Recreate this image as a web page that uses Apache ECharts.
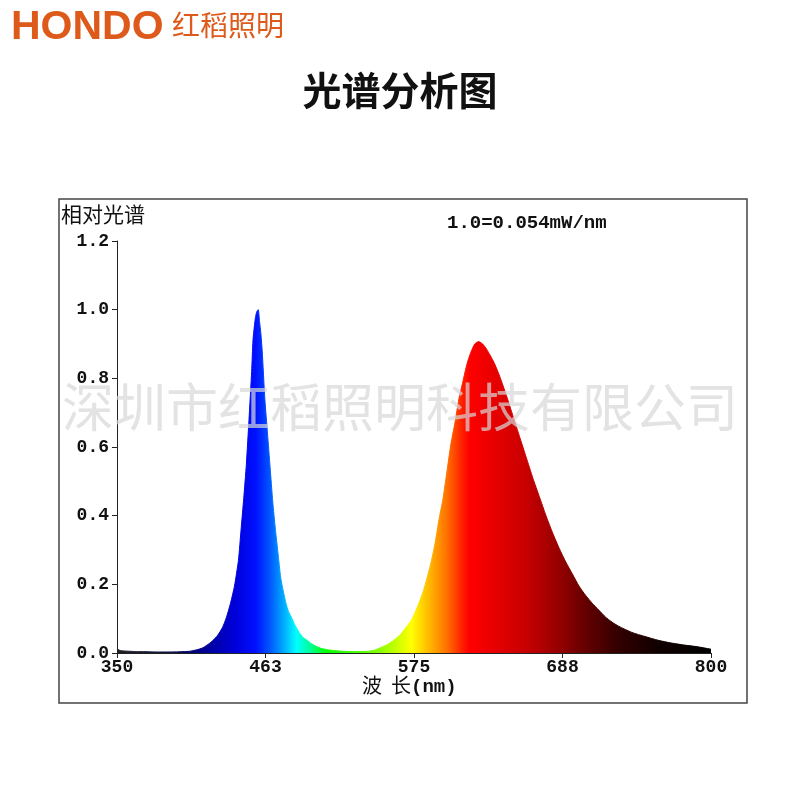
<!DOCTYPE html>
<html>
<head>
<meta charset="utf-8">
<script src="https://cdn.jsdelivr.net/npm/echarts@6/dist/echarts.min.js"></script>
<style>
  html, body { margin: 0; padding: 0; background: #fff; }
  #chart { width: 800px; height: 800px; }
</style>
</head>
<body>
<div id="chart"></div>
<script>
// 波长 (nm)
const wavelengths = [
  350, 352, 355, 360, 365, 370, 380, 390, 400, 405, 410, 415, 420, 423, 426, 430,
  433, 436, 439, 442, 444, 446, 448, 450, 452, 453, 454, 455, 456, 457, 458, 459,
  460, 462, 464, 466, 468, 470, 472, 474, 476, 478, 480, 482, 485, 488, 491, 494,
  497, 500, 505, 510, 515, 520, 530, 540, 545, 550, 555, 560, 565, 570, 573, 576,
  579, 582, 585, 588, 591, 594, 597, 600, 603, 606, 609, 612, 615, 618, 621, 624,
  627, 630, 633, 636, 640, 645, 650, 655, 660, 665, 670, 675, 680, 685, 690, 695,
  700, 705, 710, 715, 720, 725, 730, 740, 750, 760, 770, 780, 790, 800
]
// 相对光谱强度
const intensity = [
  0.012, 0.008, 0.006, 0.005, 0.004, 0.004, 0.003, 0.003, 0.004, 0.005, 0.009, 0.015, 0.028, 0.038, 0.05, 0.075,
  0.105, 0.145, 0.195, 0.27, 0.36, 0.45, 0.55, 0.68, 0.82, 0.91, 0.95, 0.98, 0.995, 1.0, 0.965, 0.93,
  0.88, 0.74, 0.64, 0.54, 0.44, 0.36, 0.29, 0.22, 0.18, 0.145, 0.12, 0.105, 0.08, 0.06, 0.045, 0.037,
  0.028, 0.021, 0.013, 0.009, 0.007, 0.005, 0.004, 0.005, 0.008, 0.016, 0.025, 0.038, 0.055, 0.08, 0.096, 0.12,
  0.148, 0.18, 0.22, 0.265, 0.32, 0.39, 0.45, 0.53, 0.61, 0.67, 0.74, 0.79, 0.84, 0.875, 0.9, 0.907,
  0.9, 0.885, 0.865, 0.843, 0.805, 0.75, 0.69, 0.63, 0.57, 0.51, 0.455, 0.4, 0.35, 0.305, 0.265, 0.23,
  0.195, 0.168, 0.145, 0.125, 0.105, 0.09, 0.078, 0.06, 0.048, 0.037, 0.029, 0.023, 0.018, 0.011
]
const xTicks = [350, 462.5, 575, 687.5, 800]

// 光谱颜色 (波长 -> 颜色)
const spectrumStops = [
  [350, '#202020'], [395, '#10104a'], [405, '#000070'], [420, '#0000a0'],
  [440, '#0000dc'], [455, '#0010ff'], [465, '#0050ff'], [475, '#00a0ff'],
  [486, '#00ffff'], [497, '#00ff90'], [508, '#00ff00'], [540, '#60ff00'],
  [560, '#c0ff00'], [573, '#ffff00'], [588, '#ffb000'], [600, '#ff7000'],
  [610, '#ff2a00'], [617, '#ff0000'], [635, '#e80000'], [660, '#c80000'],
  [685, '#950000'], [705, '#640000'], [730, '#320000'], [760, '#100000'],
  [800, '#000000']
]

const xMin = 350
const xMax = 800

function spectrumGradient() {
  return new echarts.graphic.LinearGradient(0, 0, 1, 0,
    spectrumStops.map(s => ({ offset: (s[0] - xMin) / (xMax - xMin), color: s[1] })))
}

const chart = echarts.init(document.getElementById('chart'), null, { renderer: 'canvas' })

const monoFont = '"Liberation Mono", "DejaVu Sans Mono", monospace'
const cjkFont = '"Noto Sans CJK SC", sans-serif'

const option = {
  backgroundColor: '#fff',
  animation: false,
  grid: { left: 117, right: 89, top: 241, bottom: 147 },
  xAxis: {
    type: 'value',
    min: xMin,
    max: xMax,
    axisLine: { show: true, lineStyle: { color: '#222', width: 1 } },
    axisTick: { show: true, length: 5, lineStyle: { color: '#222' }, customValues: xTicks },
    axisLabel: {
      customValues: xTicks,
      color: '#111',
      fontFamily: monoFont,
      fontWeight: 'bold',
      fontSize: 18,
      margin: 5,
      formatter: v => String(Math.round(v))
    },
    splitLine: { show: false }
  },
  yAxis: {
    type: 'value',
    min: 0,
    max: 1.2,
    interval: 0.2,
    axisLine: { show: true, lineStyle: { color: '#222', width: 1 } },
    axisTick: { show: true, length: 5, lineStyle: { color: '#222' } },
    axisLabel: {
      color: '#111',
      fontFamily: monoFont,
      fontWeight: 'bold',
      fontSize: 18,
      margin: 8,
      formatter: v => v.toFixed(1)
    },
    splitLine: { show: false }
  },
  series: [{
    type: 'line',
    data: wavelengths.map((w, i) => [w, intensity[i]]),
    symbol: 'none',
    smooth: 0.2,
    lineStyle: { width: 1, color: spectrumGradient() },
    areaStyle: { color: spectrumGradient(), opacity: 1 },
    z: 2
  }],
  graphic: [
    // 外框
    { type: 'rect', shape: { x: 59, y: 199, width: 688, height: 504 }, style: { fill: 'none', stroke: '#444', lineWidth: 1.5 }, z: 1 },
    // logo
    { type: 'text', left: 11, top: 7, style: { text: 'HONDO', fill: '#dd5a1b', font: 'bold 41px "Liberation Sans", Arial, sans-serif' } },
    { type: 'text', left: 172, top: 11, style: { text: '红稻照明', fill: '#dd5a1b', font: '28px ' + cjkFont } },
    // 标题
    { type: 'text', left: 'center', top: 71, style: { text: '光谱分析图', fill: '#111', font: 'bold 39px ' + cjkFont } },
    // 纵轴名
    { type: 'text', left: 61, top: 204, style: { text: '相对光谱', fill: '#111', font: '21px ' + cjkFont } },
    // 单位
    { type: 'text', left: 447, top: 214, style: { text: '1.0=0.054mW/nm', fill: '#111', font: 'bold 19px ' + monoFont } },
    // 横轴名
    { type: 'text', left: 362, top: 675, style: { text: '波', fill: '#111', font: '20px ' + cjkFont } },
    { type: 'text', left: 391, top: 675, style: { text: '长', fill: '#111', font: '20px ' + cjkFont } },
    { type: 'text', left: 411, top: 678, style: { text: '(nm)', fill: '#111', font: 'bold 19px ' + monoFont } },
    // 水印
    {
      type: 'text', left: 'center', top: 381, z: 100,
      style: { text: '深圳市红稻照明科技有限公司', fill: 'rgba(215,215,215,0.7)', font: '52px ' + cjkFont }
    }
  ]
}

chart.setOption(option)
</script>
</body>
</html>
